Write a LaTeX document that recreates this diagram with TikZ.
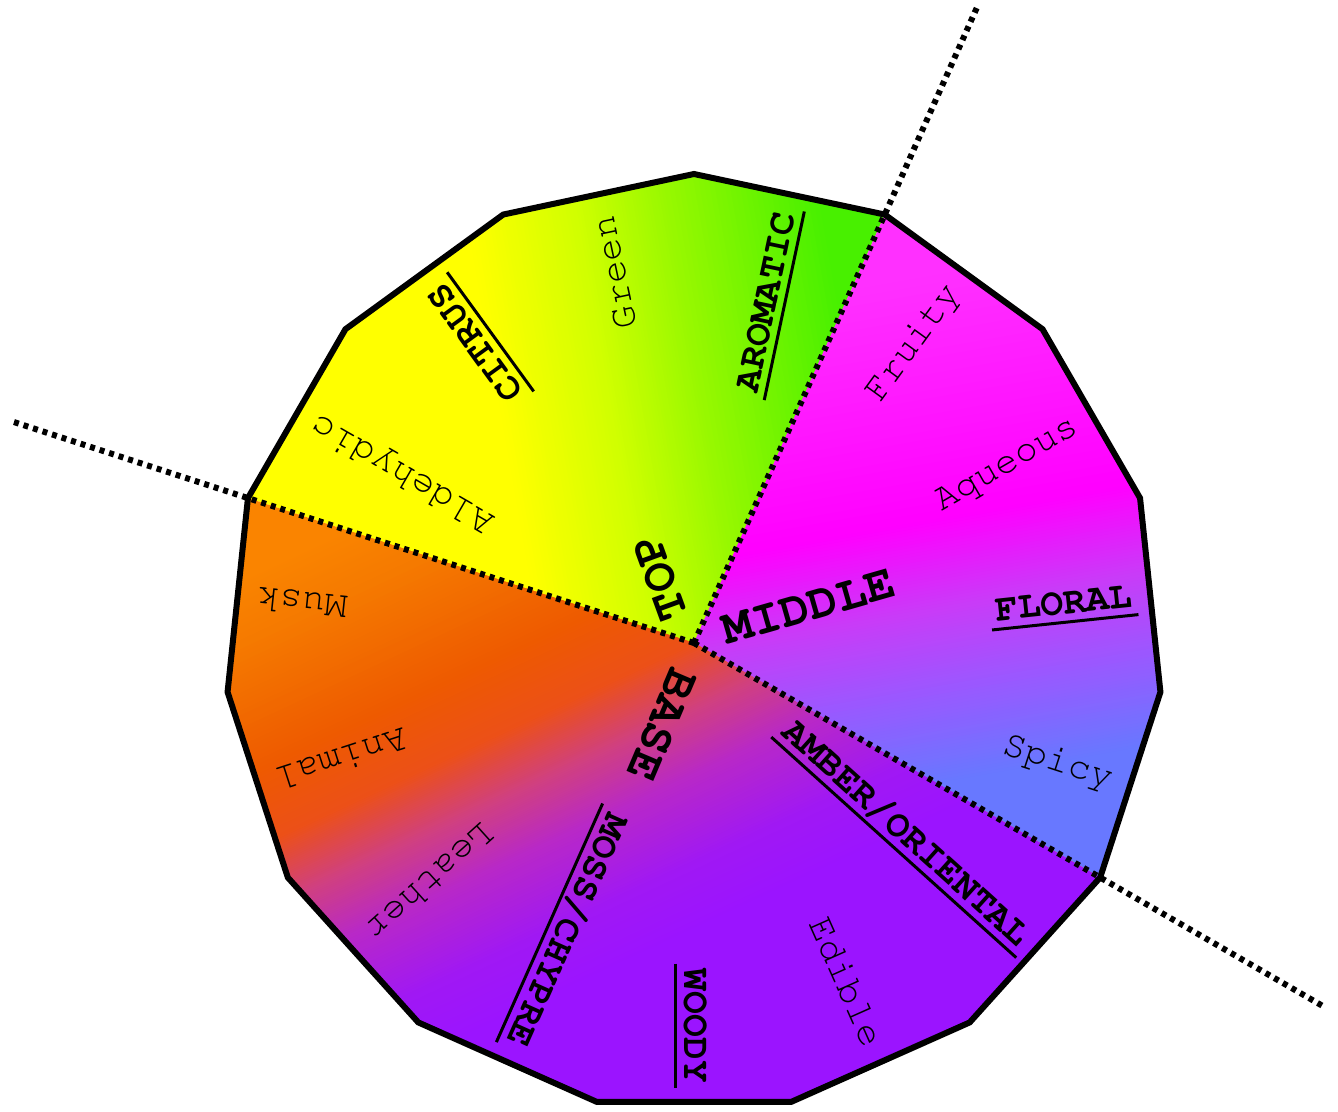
\documentclass[tikz,border=0pt]{standalone}
\usepackage[T1]{fontenc}
\usetikzlibrary{calc}
\newcommand\courfont{\fontfamily{pcr}\selectfont}
% TOP colours
\definecolor{tY}{HTML}{FFFF00}
\definecolor{tYG}{HTML}{D0FF00}
\definecolor{tLG}{HTML}{98F800}
\definecolor{tG}{HTML}{48F000}
% MIDDLE colours
\definecolor{mA}{HTML}{FF30FF}
\definecolor{mM}{HTML}{FF00FF}
\definecolor{mPa}{HTML}{C83CF8}
\definecolor{mPb}{HTML}{9A58FF}
\definecolor{mB}{HTML}{6878FF}
% BASE colours
\definecolor{bOa}{HTML}{FA8400}
\definecolor{bOb}{HTML}{F57A00}
\definecolor{bOc}{HTML}{EE5A00}
\definecolor{bR}{HTML}{EC5018}
\definecolor{bMa}{HTML}{D04080}
\definecolor{bMb}{HTML}{B828C8}
\definecolor{bVa}{HTML}{A018F4}
\definecolor{bV}{HTML}{9B14FF}
% linear colour band: angle, p_a, p_b, colour A, colour B
\newcommand\gradband[5]{%
  \foreach \gk in {0,...,29}{%
    \pgfmathsetmacro\gpa{#2+((#3)-(#2))*\gk/30}%
    \pgfmathsetmacro\gpb{#2+((#3)-(#2))*(\gk+2)/30}%
    \pgfmathtruncatemacro\gpc{100*(\gk+0.5)/30}%
    \fill[#5!\gpc!#4, rotate=#1] (\gpa,-700) rectangle (\gpb,700);
  }%
}
\begin{document}
\begin{tikzpicture}[x=1pt,y=1pt,
  lab/.style={font=\courfont\fontsize{38}{40}\selectfont, inner sep=0pt, anchor=base east},
  cat/.style={font=\courfont\bfseries\fontsize{38}{40}\selectfont, inner ysep=0pt, inner xsep=5pt, text depth=8pt, anchor=base east},
  big/.style={font=\courfont\bfseries\fontsize{49}{50}\selectfont, inner sep=0pt, anchor=center},
  ulline/.style={line width=3pt},
  sep/.style={line width=6pt, dash pattern=on 5pt off 5pt},
  rim/.style={line width=6pt, line join=miter}]
\useasboundingbox (-694,-468) rectangle (644,643);
\fill[white] (-694,-468) rectangle (644,643);
\coordinate (O) at (0,0);
% ---- TOP sector
\begin{scope}
  \clip (0,0) -- (66:469) -- (90:469) -- (114:469) -- (138:469) -- (162:469) -- cycle;
  \fill[tY] (-700,-700) rectangle (700,700);
  \gradband{10}{-150}{-40}{tY}{tYG}
  \gradband{10}{-40}{50}{tYG}{tLG}
  \gradband{10}{50}{200}{tLG}{tG}
  \fill[tG, rotate=10] (200,-700) rectangle (700,700);
\end{scope}
% ---- MIDDLE sector
\begin{scope}
  \clip (0,0) -- (-30:469) -- (-6:469) -- (18:469) -- (42:469) -- (66:469) -- cycle;
  \fill[mA] (-700,-700) rectangle (700,700);
  \gradband{-80}{-320}{-80}{mA}{mM}
  \gradband{-80}{-80}{10}{mM}{mPa}
  \gradband{-80}{10}{90}{mPa}{mPb}
  \gradband{-80}{90}{180}{mPb}{mB}
  \fill[mB, rotate=-80] (180,-700) rectangle (700,700);
\end{scope}
% ---- BASE sector
\begin{scope}
  \clip (0,0) -- (162:469) -- (186:469) -- (210:469) -- (234:469) -- (258:469) -- (282:469) -- (306:469) -- (330:469) -- cycle;
  \fill[bOa] (-700,-700) rectangle (700,700);
  \gradband{-65}{-250}{-190}{bOa}{bOb}
  \gradband{-65}{-190}{-70}{bOb}{bOc}
  \gradband{-65}{-70}{0}{bOc}{bR}
  \gradband{-65}{0}{60}{bR}{bMa}
  \gradband{-65}{60}{120}{bMa}{bMb}
  \gradband{-65}{120}{200}{bMb}{bVa}
  \gradband{-65}{200}{260}{bVa}{bV}
  \fill[bV, rotate=-65] (260,-700) rectangle (700,700);
\end{scope}
% ---- dividing dotted lines
\coordinate (e1) at (66:699);
\coordinate (e2) at (162:718);
\coordinate (e3) at (-30:727);
\draw[sep] (O) -- (e1);
\draw[sep] (O) -- (e2);
\draw[sep] (O) -- (e3);
% ---- outline
\draw[rim] (90:469) \foreach \a in {66,42,...,-246} {-- (\a:469)} -- cycle;
% ---- centre labels
\node[big, rotate=110] (top) at (-34,65) {TOP};
\node[big, rotate=16] (middle) at (115,36) {MIDDLE};
\node[big, rotate=-113] (base) at (-32,-82) {BASE};
% ---- TOP labels
\node[cat, rotate=78] (aro) at ($(78:445)+(-12:10)$) {AROMATIC};
\node[lab, rotate=102] (green) at ($(102:436)+(12:10)$) {Green};
\node[cat, rotate=126] (cit) at ($(126:445)+(36:10)$) {CITRUS};
\node[lab, rotate=150] (ald) at ($(150:440)+(60:10)$) {Aldehydic};
% ---- MIDDLE labels
\node[lab, rotate=54] (fru) at ($(54:440)+(-36:10)$) {Fruity};
\node[lab, rotate=30] (aqu) at ($(30:440)+(-60:10)$) {Aqueous};
\node[cat, rotate=6] (flo) at ($(6:445)+(-84:10)$) {FLORAL};
\node[lab, rotate=-18] (spi) at ($(-18:440)+(-108:10)$) {Spicy};
% ---- BASE labels
\node[cat, rotate=-42] (amb) at ($(-42:450)+(-132:10)$) {AMBER/ORIENTAL};
\node[lab, rotate=-66] (edi) at ($(-66:440)+(-156:10)$) {Edible};
\node[cat, rotate=-90] (woo) at ($(-90:445)+(-180:10)$) {WOODY};
\node[cat, rotate=-114] (mos) at ($(-114:445)+(-204:10)$) {MOSS/CHYPRE};
\node[lab, rotate=-138] (lea) at ($(-138:436)+(-228:10)$) {Leather};
\node[lab, rotate=-162] (ani) at ($(-162:440)+(-252:10)$) {Animal};
\node[lab, rotate=174] (mus) at ($(174:440)+(84:10)$) {Musk};
% ---- underlines
\draw[ulline] (aro.south west) -- (aro.south east);
\draw[ulline] (cit.south west) -- (cit.south east);
\draw[ulline] (flo.south west) -- (flo.south east);
\draw[ulline] (amb.south west) -- (amb.south east);
\draw[ulline] (woo.south west) -- (woo.south east);
\draw[ulline] (mos.south west) -- (mos.south east);
\end{tikzpicture}
\end{document}
